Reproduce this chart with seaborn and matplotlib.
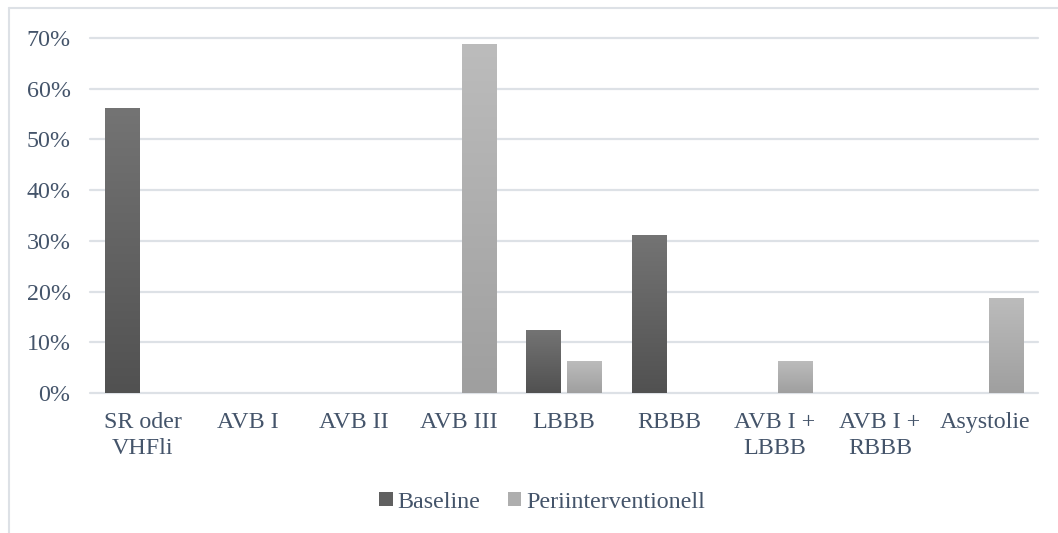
import numpy as np
import pandas as pd
import matplotlib
matplotlib.use("Agg")
import matplotlib.pyplot as plt
from matplotlib.patches import Patch
from matplotlib.colors import LinearSegmentedColormap
from matplotlib.ticker import PercentFormatter
import seaborn as sns

categories = ["SR oder\nVHFli", "AVB I", "AVB II", "AVB III", "LBBB", "RBBB",
              "AVB I +\nLBBB", "AVB I +\nRBBB", "Asystolie"]
series = ["Baseline", "Periinterventionell"]
baseline = [0.5625, 0.0, 0.0, 0.0, 0.125, 0.3125, 0.0, 0.0, 0.0]
periinterventionell = [0.0, 0.0, 0.0, 0.6875, 0.0625, 0.0, 0.0625, 0.0, 0.1875]
yticks = [0.0, 0.1, 0.2, 0.3, 0.4, 0.5, 0.6, 0.7]

df = pd.DataFrame({
    "Kategorie": categories * 2,
    "Serie": [series[0]] * len(categories) + [series[1]] * len(categories),
    "Anteil": baseline + periinterventionell,
})

TEXT = "#44546A"
GRID = "#dde1e6"
gradients = {
    series[0]: ("#747474", "#515151"),
    series[1]: ("#bcbcbc", "#9f9f9f"),
}

sns.set_theme(style="white")
plt.rcParams["font.family"] = ["Liberation Serif", "DejaVu Serif"]

fig = plt.figure(figsize=(10.58, 5.33), dpi=100)
W, H = 1058, 533
ax = fig.add_axes([90 / W, 1 - 393 / H, (1038 - 90) / W, (393 - 38) / H])

sns.barplot(data=df, x="Kategorie", y="Anteil", hue="Serie", order=categories,
            hue_order=series, palette=[gradients[s][1] for s in series],
            width=0.78, gap=0.17, ax=ax, legend=False, linewidth=0)

ax.set_ylim(0, 0.7)
ax.set_xlim(-0.5, len(categories) - 0.5)
ax.set_yticks(yticks)
ax.yaxis.set_major_formatter(PercentFormatter(1.0, decimals=0))
ax.set_xlabel("")
ax.set_ylabel("")
for s in ax.spines.values():
    s.set_visible(False)
for y in yticks:
    ax.axhline(y, color=GRID, lw=1.6, zorder=0.5, clip_on=False)
ax.tick_params(axis="both", length=0, labelsize=17.3, labelcolor=TEXT)
ax.tick_params(axis="y", pad=14)
ax.tick_params(axis="x", pad=14)
for lab in ax.get_xticklabels():
    lab.set_linespacing(1.3)

# vertical gradient fill inside each bar, lighter at the top
grad = np.linspace(0, 1, 256).reshape(-1, 1)
for container, s in zip(ax.containers, series):
    cmap = LinearSegmentedColormap.from_list(s, [gradients[s][0], gradients[s][1]])
    for bar in container:
        h = bar.get_height()
        if h <= 0:
            continue
        x0 = bar.get_x()
        w = bar.get_width()
        im = ax.imshow(grad, cmap=cmap, aspect="auto", origin="upper",
                       extent=[x0, x0 + w, 0, h],
                       zorder=bar.get_zorder() + 0.1, interpolation="bicubic")
        im.set_clip_path(bar)
ax.set_xlim(-0.5, len(categories) - 0.5)
ax.set_ylim(0, 0.7)

handles = [Patch(facecolor="#606060", edgecolor="none"),
           Patch(facecolor="#aeaeae", edgecolor="none")]
fig.legend(handles, series, loc="center", bbox_to_anchor=(542 / W, 1 - 502 / H),
           ncol=2, frameon=False, fontsize=17.3, labelcolor=TEXT,
           handlelength=0.55, handleheight=0.55, handletextpad=0.2,
           columnspacing=1.15)

# chart area outline
fig.add_artist(plt.Line2D([9 / W, 9 / W], [0, 1 - 8 / H], color=GRID, lw=1.5))
fig.add_artist(plt.Line2D([9 / W, 1], [1 - 8 / H, 1 - 8 / H], color=GRID, lw=1.5))

fig.savefig("out.png", dpi=100, facecolor="white")
